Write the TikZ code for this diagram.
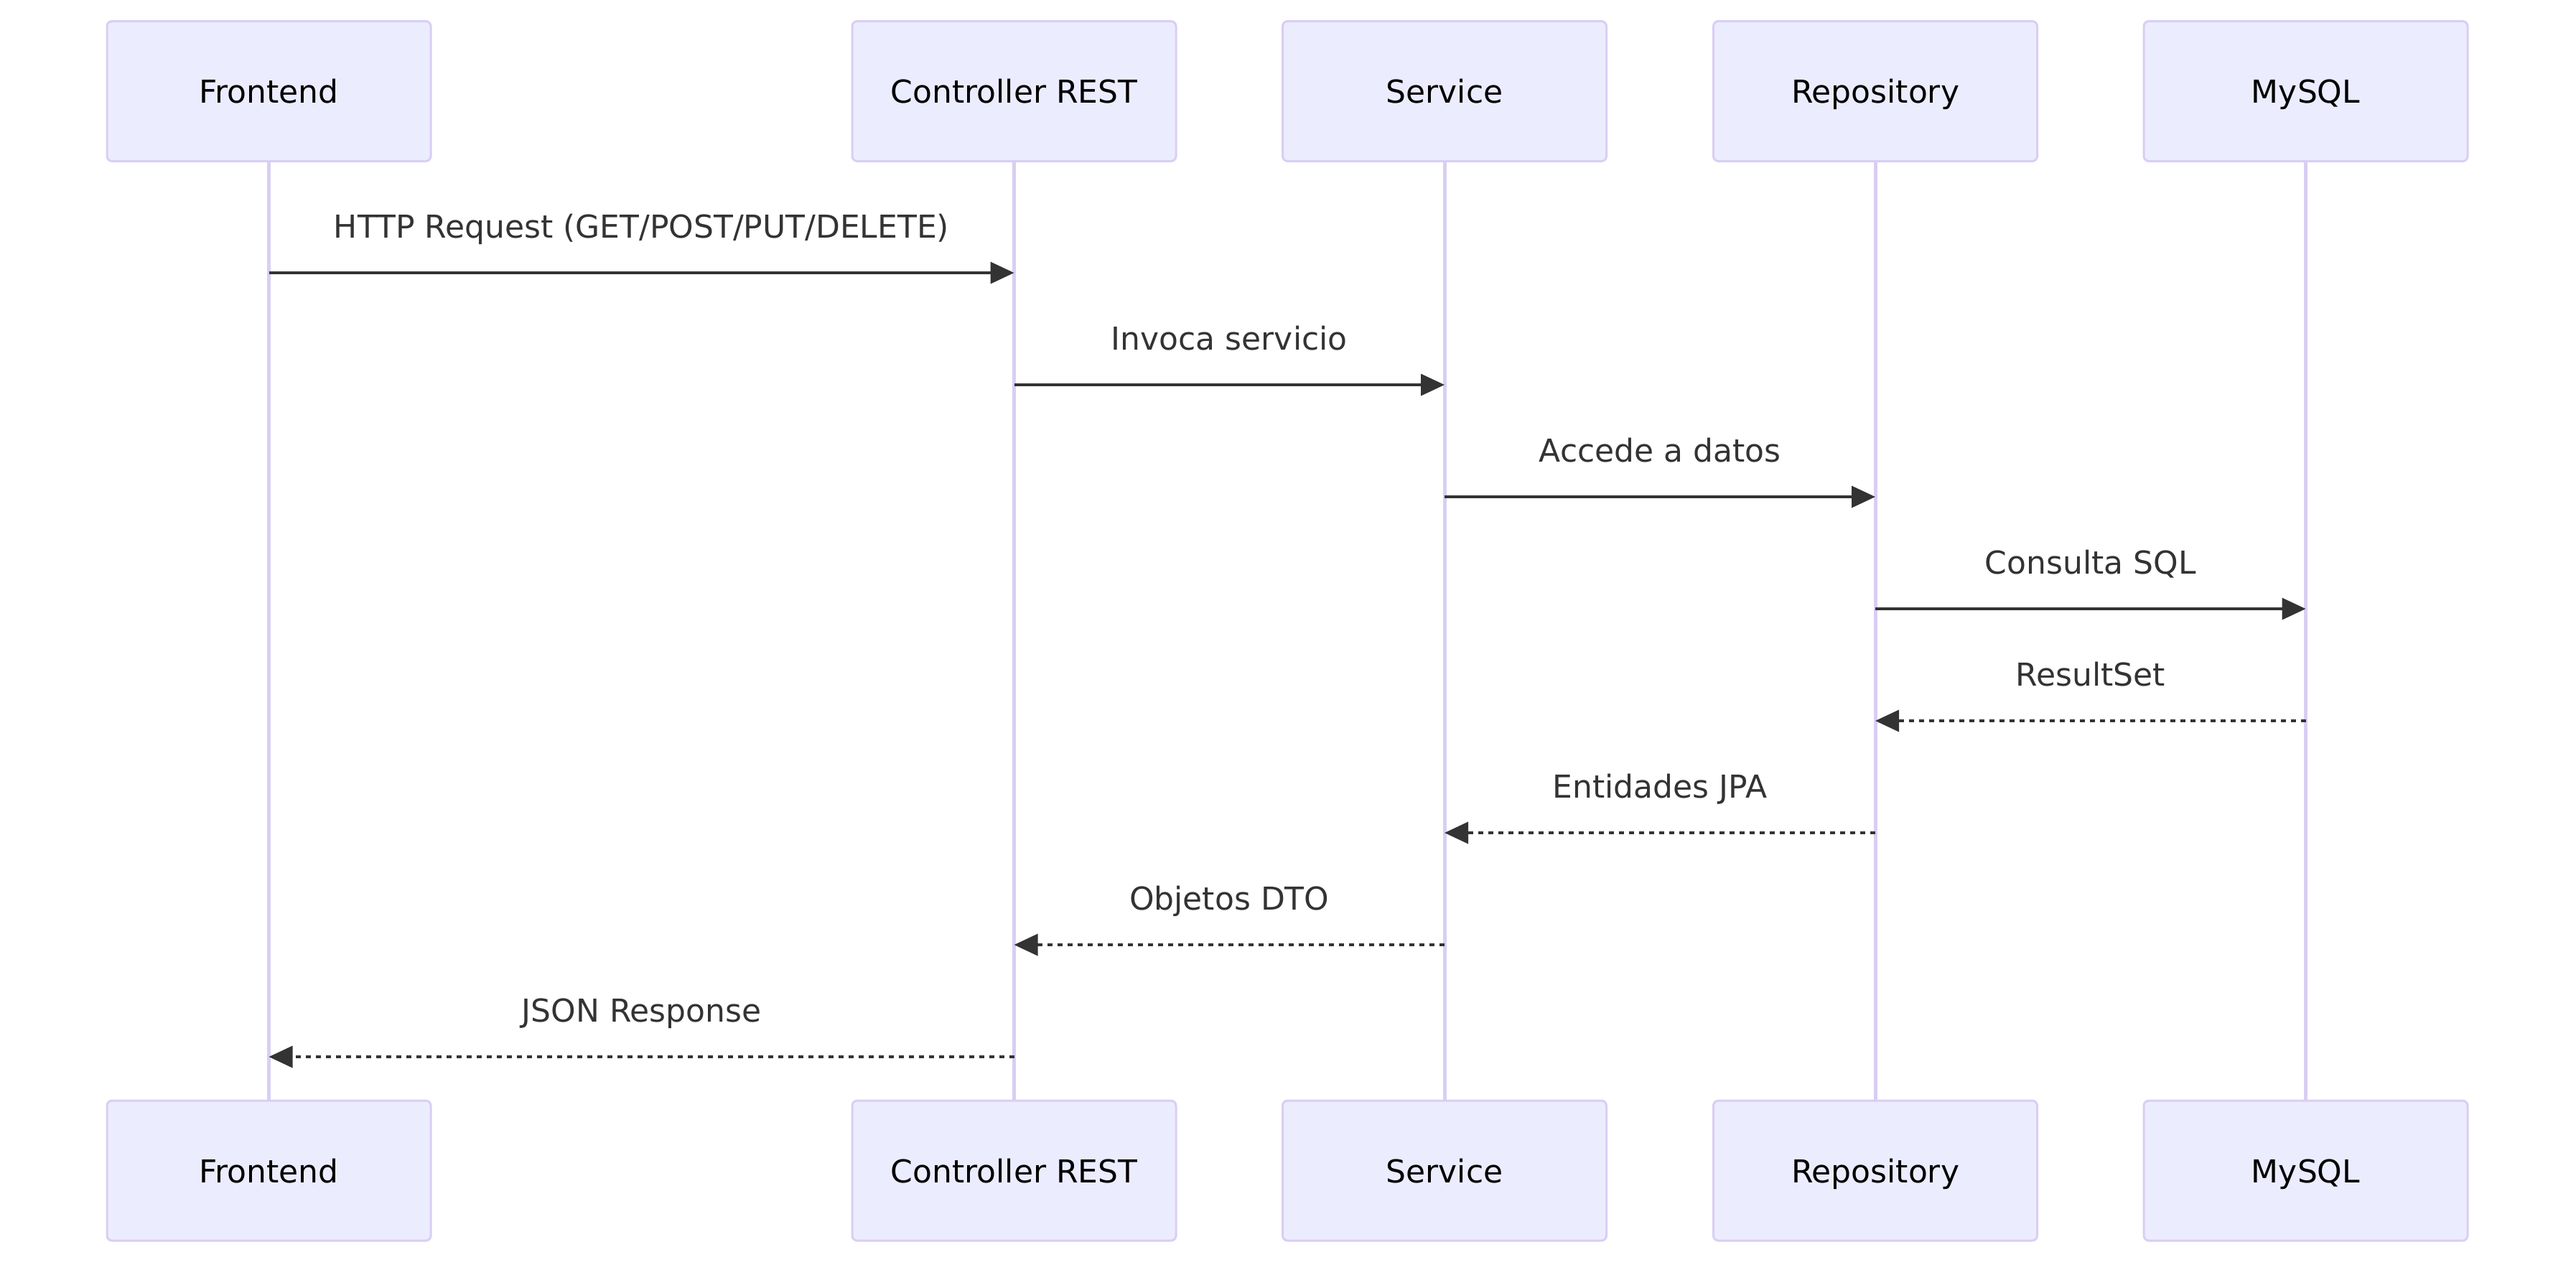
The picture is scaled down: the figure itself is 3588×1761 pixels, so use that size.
\documentclass[tikz,border=0pt]{standalone}
\usepackage{fontspec}
\setmainfont{DejaVu Sans}
\usetikzlibrary{arrows.meta}
\definecolor{actorfill}{HTML}{ECECFF}
\definecolor{actorline}{HTML}{D9CEF3}
\definecolor{msgcol}{HTML}{333333}
\begin{document}
\begin{tikzpicture}[x=0.25pt, y=-0.25pt,
		actor/.style={draw=actorline, fill=actorfill, line width=0.75pt, rounded corners=1.75pt,
			minimum width=112.75pt, minimum height=48.75pt, inner sep=0pt,
			text height=8.4pt, text depth=0pt, font=\fontsize{11}{13}\selectfont},
		lifeline/.style={draw=actorline, line width=1.25pt},
		msg/.style={draw=msgcol, line width=0.9pt, -{Triangle[length=8.25pt, width=7.5pt]}},
		reply/.style={msg, dash pattern=on 1.75pt off 1.75pt},
		msglabel/.style={midway, anchor=base, yshift=12.25pt, text=msgcol, font=\fontsize{11}{13}\selectfont}]
	\useasboundingbox (0, 0) rectangle (3588, 1761);

	% participants, top and bottom
	\node [actor] (fe) at (374.5, 127) {Frontend};
	\node [actor] (ctrl) at (1412.5, 127) {Controller REST};
	\node [actor] (svc) at (2012, 127) {Service};
	\node [actor] (repo) at (2612, 127) {Repository};
	\node [actor] (db) at (3211.5, 127) {MySQL};

	\node [actor] (fe2) at (374.5, 1630.5) {Frontend};
	\node [actor] (ctrl2) at (1412.5, 1630.5) {Controller REST};
	\node [actor] (svc2) at (2012, 1630.5) {Service};
	\node [actor] (repo2) at (2612, 1630.5) {Repository};
	\node [actor] (db2) at (3211.5, 1630.5) {MySQL};

	\draw [lifeline] (fe.south) -- (fe2.north);
	\draw [lifeline] (ctrl.south) -- (ctrl2.north);
	\draw [lifeline] (svc.south) -- (svc2.north);
	\draw [lifeline] (repo.south) -- (repo2.north);
	\draw [lifeline] (db.south) -- (db2.north);

	% message rows
	\coordinate (m1) at (0, 380);
	\coordinate (m2) at (0, 536);
	\coordinate (m3) at (0, 692);
	\coordinate (m4) at (0, 848);
	\coordinate (m5) at (0, 1004);
	\coordinate (m6) at (0, 1160);
	\coordinate (m7) at (0, 1316);
	\coordinate (m8) at (0, 1472);

	\draw [msg] (fe |- m1) -- (ctrl |- m1) node [msglabel] {HTTP Request (GET/POST/PUT/DELETE)};
	\draw [msg] (ctrl |- m2) -- (svc |- m2) node [msglabel] {Invoca servicio};
	\draw [msg] (svc |- m3) -- (repo |- m3) node [msglabel] {Accede a datos};
	\draw [msg] (repo |- m4) -- (db |- m4) node [msglabel] {Consulta SQL};

	\draw [reply] (db |- m5) -- (repo |- m5) node [msglabel] {ResultSet};
	\draw [reply] (repo |- m6) -- (svc |- m6) node [msglabel] {Entidades JPA};
	\draw [reply] (svc |- m7) -- (ctrl |- m7) node [msglabel] {Objetos DTO};
	\draw [reply] (ctrl |- m8) -- (fe |- m8) node [msglabel] {JSON Response};
\end{tikzpicture}
\end{document}
